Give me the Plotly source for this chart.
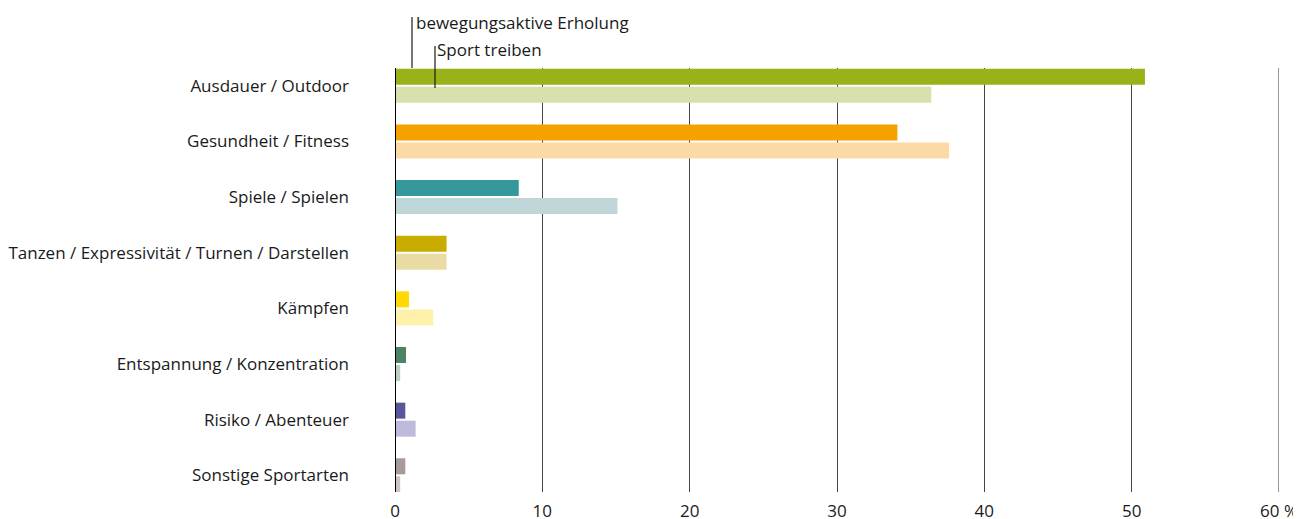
import plotly.graph_objects as go

categories = ["Ausdauer / Outdoor", "Gesundheit / Fitness", "Spiele / Spielen",
              "Tanzen / Expressivität / Turnen / Darstellen", "Kämpfen",
              "Entspannung / Konzentration", "Risiko / Abenteuer", "Sonstige Sportarten"]
erholung = [50.9, 34.1, 8.4, 3.5, 0.95, 0.75, 0.7, 0.7]
sport = [36.4, 37.6, 15.1, 3.5, 2.6, 0.35, 1.4, 0.35]
dark_colors = ["#98b218", "#f5a200", "#35999b", "#c8ad00", "#ffd900", "#4b8464", "#58579e", "#a69b98"]
light_colors = ["#d9e0ae", "#fdd9a5", "#bfd7d8", "#e9dba3", "#fff0ab", "#b9cfc1", "#bdbbdb", "#cdc4c2"]
tick_vals = [0, 10, 20, 30, 40, 50, 60]
tick_text = ["0", "10", "20", "30", "40", "50", "60 %"]

FONT = "Open Sans"
FS = 17
fig = go.Figure()
fig.add_trace(go.Bar(y=categories, x=erholung, orientation="h", name="bewegungsaktive Erholung",
                     marker=dict(color=dark_colors, line=dict(width=0)), width=0.288, offset=-0.306))
fig.add_trace(go.Bar(y=categories, x=sport, orientation="h", name="Sport treiben",
                     marker=dict(color=light_colors, line=dict(width=0)), width=0.288, offset=0.018))

# page body has an 8px margin, so the figure is sized/offset to compensate
fig.update_layout(
    width=1293, height=511, showlegend=False,
    margin=dict(l=387, r=22, t=60, b=27),
    paper_bgcolor="white", plot_bgcolor="white",
    font=dict(family=FONT, size=FS, color="#1a1a1a"),
    barmode="overlay",
)
fig.update_xaxes(range=[0, 60], tickvals=tick_vals, ticktext=tick_text, showgrid=True,
                 gridcolor="#444444", gridwidth=1, zeroline=False, showline=False,
                 ticks="", ticklabelstandoff=7, automargin=False,
                 tickfont=dict(size=FS, color="#1a1a1a"))
fig.update_yaxes(type="category", categoryorder="array", categoryarray=categories,
                 range=[7.3, -0.32], showgrid=False, zeroline=False, showline=False, ticks="",
                 ticklabelstandoff=45, automargin=False, tickfont=dict(size=FS, color="#1a1a1a"))

# zero line on top of bars
fig.add_shape(type="line", xref="x", yref="paper", x0=0, x1=0, y0=0, y1=1,
              line=dict(color="black", width=2), layer="above")
# right-edge gridline (60 %)
fig.add_shape(type="line", xref="x", yref="paper", x0=60, x1=60, y0=0, y1=1,
              line=dict(color="#777777", width=1.5), layer="below")

# legend labels with leader lines
fig.add_shape(type="line", xref="paper", yref="paper", x0=17/884, x1=17/884,
              y0=1, y1=1 + 51/424, line=dict(color="#1a1a1a", width=1.2), layer="above")
fig.add_shape(type="line", xref="paper", yref="paper", x0=40/884, x1=40/884,
              y0=1 - 20/424, y1=1 + 22/424, line=dict(color="#1a1a1a", width=1.2), layer="above")
fig.add_annotation(xref="paper", yref="paper", x=19/884, y=1 + 46/424, text="bewegungsaktive Erholung",
                   showarrow=False, xanchor="left", yanchor="middle", font=dict(size=FS, color="#1a1a1a"))
fig.add_annotation(xref="paper", yref="paper", x=40/884, y=1 + 19/424, text="Sport treiben",
                   showarrow=False, xanchor="left", yanchor="middle", font=dict(size=FS, color="#1a1a1a"))

fig.write_html("out.html")
